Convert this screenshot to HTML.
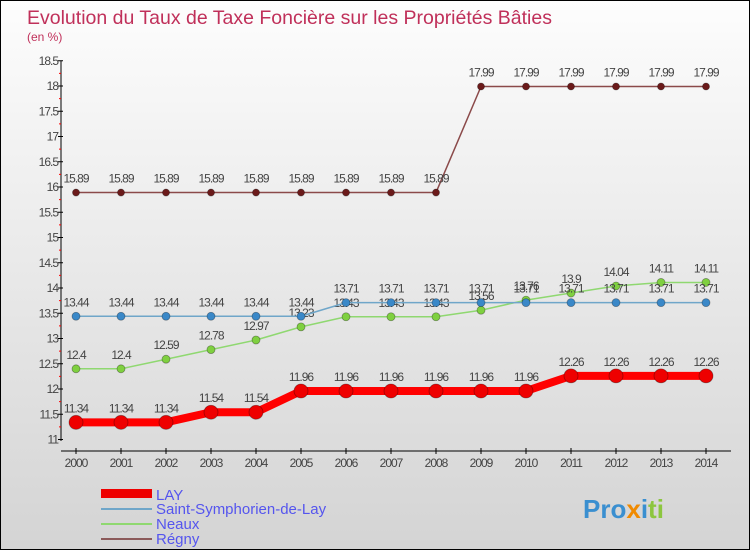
<!DOCTYPE html>
<html><head><meta charset="utf-8"><style>
body{margin:0}
#c{width:750px;height:550px;position:relative;overflow:hidden;box-sizing:border-box;border:1px solid #000;background:linear-gradient(#fdfdfd,#d4d4d4);font-family:"Liberation Sans",sans-serif}
</style></head><body>
<div id="c">
<svg id="s" width="750" height="550" style="position:absolute;left:0;top:0">
<text x="26" y="23" font-size="19.5" fill="#c0305a">Evolution du Taux de Taxe Foncière sur les Propriétés Bâties</text>
<text x="26" y="40" font-size="12" fill="#c0305a">(en %)</text>
<g id="axes"></g><g id="series"></g>
<g>
<rect x="100" y="488" width="51" height="9" fill="#e00"/>
<text x="155" y="499" font-size="15" fill="#5555ee">LAY</text>
<rect x="100" y="507" width="51" height="2" fill="#6fa6c9"/>
<text x="155" y="513" font-size="15" fill="#5555ee">Saint-Symphorien-de-Lay</text>
<rect x="100" y="522" width="51" height="2" fill="#8fd870"/>
<text x="155" y="528" font-size="15" fill="#5555ee">Neaux</text>
<rect x="100" y="537" width="51" height="2" fill="#8b5a5a"/>
<text x="155" y="543" font-size="15" fill="#5555ee">Régny</text>
</g>
<text x="582" y="517" font-size="26" font-weight="bold"><tspan fill="#3a8fd0">Pro</tspan><tspan fill="#f08a00">x</tspan><tspan fill="#3a8fd0">i</tspan><tspan fill="#8cc63f">ti</tspan></text>
</svg>
</div>
<script>
const years=[2000,2001,2002,2003,2004,2005,2006,2007,2008,2009,2010,2011,2012,2013,2014];
const lay=[11.34,11.34,11.34,11.54,11.54,11.96,11.96,11.96,11.96,11.96,11.96,12.26,12.26,12.26,12.26];
const stsym=[13.44,13.44,13.44,13.44,13.44,13.44,13.71,13.71,13.71,13.71,13.71,13.71,13.71,13.71,13.71];
const neaux=[12.4,12.4,12.59,12.78,12.97,13.23,13.43,13.43,13.43,13.56,13.76,13.9,14.04,14.11,14.11];
const regny=[15.89,15.89,15.89,15.89,15.89,15.89,15.89,15.89,15.89,17.99,17.99,17.99,17.99,17.99,17.99];
const yTicks=[11,11.5,12,12.5,13,13.5,14,14.5,15,15.5,16,16.5,17,17.5,18,18.5];
const NS="http://www.w3.org/2000/svg";
const X=i=>75+i*45, Y=v=>438.5-(v-11)*50.5;
function mk(t,a,p){const e=document.createElementNS(NS,t);for(const k in a)e.setAttribute(k,a[k]);p.appendChild(e);return e;}
const ax=document.getElementById('axes');
const yl=mk('line',{x1:60,y1:60,x2:60,y2:440,stroke:'#000'},ax);


const xl=mk('line',{x1:60,y1:450,x2:730,y2:450,stroke:'#000'},ax);


yTicks.forEach(v=>{
 mk('line',{x1:57,x2:62,y1:Y(v),y2:Y(v),stroke:'#000'},ax);
 if(v<18.5)mk('line',{x1:58,x2:60,y1:Y(v+0.25),y2:Y(v+0.25),stroke:'#f00'},ax);
 const t=mk('text',{x:57,y:Y(v)+4,'font-size':12,fill:'#444','text-anchor':'end','letter-spacing':'-1'},ax);
 t.textContent=String(v);
 
 
});
years.forEach((y,i)=>{
 mk('line',{x1:X(i),x2:X(i),y1:447,y2:453,stroke:'#000'},ax);
 const t=mk('text',{x:X(i),y:466,'font-size':12,fill:'#444','text-anchor':'middle','letter-spacing':'-1'},ax);
 t.textContent=String(y);
 
 
});
const sg=document.getElementById('series');
function draw(vals,name,col,dot,w,r){
 const g=mk('g',{},sg);
 
 
 mk('polyline',{points:vals.map((v,i)=>X(i)+','+Y(v)).join(' '),fill:'none',stroke:col,'stroke-width':w,'stroke-linejoin':'round'},g);
 vals.forEach((v,i)=>{
  const c=mk('circle',{cx:X(i),cy:Y(v),r:r,fill:dot,stroke:'rgba(0,0,0,0.35)','stroke-width':0.8},g);
  
  
  const t=mk('text',{x:X(i),y:Y(v)-10,'font-size':12,fill:'#444','text-anchor':'middle','letter-spacing':'-1'},g);
  t.textContent=String(v);
  
  
 });
}
draw(regny,'regny','#8b4a4a','#6b1a1a',1.5,3.5);
draw(neaux,'neaux','#8fd870','#7fd040',1.5,4);
draw(stsym,'saint-symphorien','#6fa6c9','#3a88c8',1.5,4);
draw(lay,'lay','#f00','#e00',8,7);
</script>
</body></html>
